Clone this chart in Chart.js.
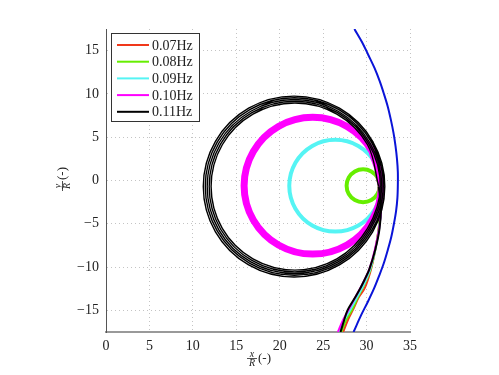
<!DOCTYPE html>
<html>
<head>
<meta charset="utf-8">
<script src="https://cdn.jsdelivr.net/npm/chart.js@4/dist/chart.umd.min.js"></script>
<style>
  html, body { margin: 0; padding: 0; background: #fff; }
  #wrap { width: 499px; height: 375px; }
</style>
</head>
<body>
<div id="wrap"><canvas id="chart" width="499" height="375"></canvas></div>
<script>
// Tick values and series labels
const xTicks = [0, 5, 10, 15, 20, 25, 30, 35];
const yTicks = [-15, -10, -5, 0, 5, 10, 15];
const labels = ["0.07Hz", "0.08Hz", "0.09Hz", "0.10Hz", "0.11Hz"];
const colors = ["#f0381a", "#66ee00", "#55f4f4", "#ff00ff", "#000000"];

// Approach paths coming up from the bottom of the plot
const redPath = [[27.3,-17.5],[27.9,-16],[28.4,-15],[29.1,-13.5],[29.8,-12.4],[30.5,-10.3],[31.0,-8.0],[31.4,-5.5],[31.65,-3],[31.75,-1.2]];
const greenPath = [[27.1,-17.5],[27.7,-16],[28.3,-15],[29.0,-13.5],[29.75,-12],[30.45,-10.3],[31.0,-8],[31.4,-5.5],[31.55,-3],[31.5,-0.6]];
const cyanPath = [[26.9,-17.5],[27.4,-16.2],[28.1,-15],[28.9,-13.5],[29.7,-12],[30.4,-10.3],[31.0,-8.0],[31.45,-5.5],[31.7,-3],[31.7,-0.6]];
const magentaPath = [[26.7,-17.5],[27.2,-16.3],[27.9,-15],[28.7,-13.5],[29.5,-12],[30.3,-10.3],[30.95,-8.0],[31.45,-5.5],[31.7,-3],[31.7,-0.6]];
const blackPath = [[27.0,-17.5],[27.4,-16.2],[27.8,-15],[28.5,-13.8],[29.2,-12.6],[29.8,-11.4],[30.3,-10.3],[31.0,-8.0],[31.5,-5.5],[31.65,-3],[31.4,-0.7]];

// Limit cycles
const greenLoop = [[31.5,-0.6],[31.25,0.35],[30.55,1.05],[29.6,1.3],[28.65,1.05],[27.95,0.35],[27.7,-0.6],[27.95,-1.55],[28.65,-2.25],[29.6,-2.5],[30.55,-2.25],[31.25,-1.55],[31.5,-0.6],[31.25,0.35]];
const cyanLoop = [[31.7,-0.6],[30.99,2.05],[29.05,3.99],[26.4,4.7],[23.75,3.99],[21.81,2.05],[21.1,-0.6],[21.81,-3.25],[23.75,-5.19],[26.4,-5.9],[29.05,-5.19],[30.99,-3.25],[31.7,-0.6],[30.99,2.05]];
const magentaLoop = [[31.7,-0.6],[30.64,3.35],[27.75,6.24],[23.8,7.3],[19.85,6.24],[16.96,3.35],[15.9,-0.6],[16.96,-4.55],[19.85,-7.44],[23.8,-8.5],[27.75,-7.44],[30.64,-4.55],[31.7,-0.6],[30.64,3.35]];
const blackLoop = [
  [31.4,-0.7],[30.11,4.13],[26.58,7.66],[21.75,8.95],[16.92,7.66],[13.39,4.13],[12.1,-0.7],[13.39,-5.53],[16.92,-9.06],[21.75,-10.35],[26.58,-9.06],[30.11,-5.53],
  [31.58,-0.7],[30.26,4.23],[26.66,7.83],[21.73,9.15],[16.8,7.83],[13.2,4.23],[11.88,-0.7],[13.2,-5.63],[16.8,-9.23],[21.73,-10.55],[26.66,-9.23],[30.26,-5.63],
  [31.75,-0.7],[30.4,4.33],[26.73,8.0],[21.7,9.35],[16.67,8.0],[13.0,4.33],[11.65,-0.7],[13.0,-5.73],[16.67,-9.4],[21.7,-10.75],[26.73,-9.4],[30.4,-5.73],
  [31.93,-0.7],[30.56,4.43],[26.81,8.18],[21.68,9.55],[16.55,8.18],[12.8,4.43],[11.43,-0.7],[12.8,-5.83],[16.55,-9.58],[21.68,-10.95],[26.81,-9.58],[30.56,-5.83],
  [32.1,-0.7],[30.7,4.53],[26.88,8.35],[21.65,9.75],[16.42,8.35],[12.6,4.53],[11.2,-0.7],[12.6,-5.93],[16.42,-9.75],[21.65,-11.15],[26.88,-9.75],[30.7,-5.93],
  [32.1,-0.7],[30.7,4.53]
];
// Blue boundary curve
const bluePath = [[28.6,17.5],[29.47,16],[30.2,14.5],[30.91,13],[31.5,11.5],[32.0,10],[32.45,8.5],[32.8,7],[33.1,5.5],[33.33,4],[33.5,2.5],[33.6,1],[33.6,-0.5],[33.55,-2],[33.4,-3.5],[33.15,-5],[32.85,-6.5],[32.45,-8],[32.0,-9.5],[31.45,-11],[30.85,-12.5],[30.15,-14],[29.4,-15.5],[28.5,-17.5]];

const pts = a => a.map(p => ({ x: p[0], y: p[1] }));
const serif = "'Liberation Serif', 'DejaVu Serif', serif";

function line(data, color, width, order, label) {
  return {
    label: label || "",
    data: pts(data),
    showLine: true,
    borderColor: color,
    backgroundColor: color,
    borderWidth: width,
    pointRadius: 0,
    tension: 0.35,
    order: order
  };
}

const datasets = [
  line(bluePath, "#0a14d8", 2, 20),
  line(redPath, colors[0], 2, 15, labels[0]),
  line(greenPath, colors[1], 2, 14),
  line(greenLoop, colors[1], 4, 14, labels[1]),
  line(cyanPath, colors[2], 2, 13),
  line(cyanLoop, colors[2], 4, 13, labels[2]),
  line(magentaPath, colors[3], 2, 12),
  line(magentaLoop, colors[3], 7, 12, labels[3]),
  line(blackPath, colors[4], 2, 11),
  line(blackLoop, colors[4], 1.4, 11, labels[4])
];

// fraction-style axis label, e.g. x over R followed by (-)
function fracLabel(ctx, num, den, cx, cy, rot) {
  ctx.save();
  ctx.translate(cx, cy);
  if (rot) ctx.rotate(-Math.PI / 2);
  ctx.fillStyle = "#222";
  ctx.strokeStyle = "#222";
  ctx.textAlign = "center";
  ctx.textBaseline = "middle";
  ctx.font = "italic 10px " + serif;
  ctx.fillText(num, -8, -5);
  ctx.fillText(den, -8, 4);
  ctx.lineWidth = 0.8;
  ctx.beginPath();
  ctx.moveTo(-13, -0.5);
  ctx.lineTo(-3, -0.5);
  ctx.stroke();
  ctx.font = "13px " + serif;
  ctx.textAlign = "left";
  ctx.fillText("(-)", -2, 0);
  ctx.restore();
}

const decor = {
  id: "decor",
  afterDraw(chart) {
    const ctx = chart.ctx;
    const area = chart.chartArea;
    // legend box inside the plot, top-left
    const lx = 111, ly = 33, lw = 88, lh = 88;
    ctx.save();
    ctx.fillStyle = "#fff";
    ctx.fillRect(lx, ly, lw, lh);
    ctx.strokeStyle = "#333";
    ctx.lineWidth = 1;
    ctx.strokeRect(lx + 0.5, ly + 0.5, lw, lh);
    ctx.font = "14px " + serif;
    ctx.textBaseline = "middle";
    labels.forEach((t, i) => {
      const y = 45 + i * 16.7;
      ctx.strokeStyle = colors[i];
      ctx.lineWidth = 2;
      ctx.beginPath();
      ctx.moveTo(117, y);
      ctx.lineTo(149, y);
      ctx.stroke();
      ctx.fillStyle = "#222";
      ctx.fillText(t, 152, y + 1);
    });
    ctx.restore();
    fracLabel(ctx, "x", "R", (area.left + area.right) / 2 + 2, 359, false);
    fracLabel(ctx, "y", "R", 63, 178, true);
  }
};

new Chart(document.getElementById("chart"), {
  type: "scatter",
  data: { datasets: datasets },
  plugins: [decor],
  options: {
    responsive: false,
    animation: false,
    layout: { padding: { top: 29, right: 89, left: 0, bottom: 0 } },
    plugins: { legend: { display: false }, tooltip: { enabled: false } },
    scales: {
      x: {
        type: "linear",
        min: 0,
        max: 35,
        afterBuildTicks: s => { s.ticks = xTicks.map(v => ({ value: v })); },
        afterFit: s => { s.height = 43; },
        ticks: { padding: 6, color: "#222", font: { family: serif, size: 14 } },
        grid: { color: "#c4c4c4", drawTicks: false },
        border: { color: "#999", width: 2, dash: [1, 3] }
      },
      y: {
        type: "linear",
        min: -17.5,
        max: 17.5,
        afterBuildTicks: s => { s.ticks = yTicks.map(v => ({ value: v })); },
        afterFit: s => { s.width = 106; },
        ticks: { padding: 7, color: "#222", font: { family: serif, size: 14 },
                 callback: v => String(v).replace("-", "\u2212") },
        grid: { color: "#c4c4c4", drawTicks: false },
        border: { color: "#555", width: 1, dash: [1, 3] }
      }
    }
  }
});
</script>
</body>
</html>
